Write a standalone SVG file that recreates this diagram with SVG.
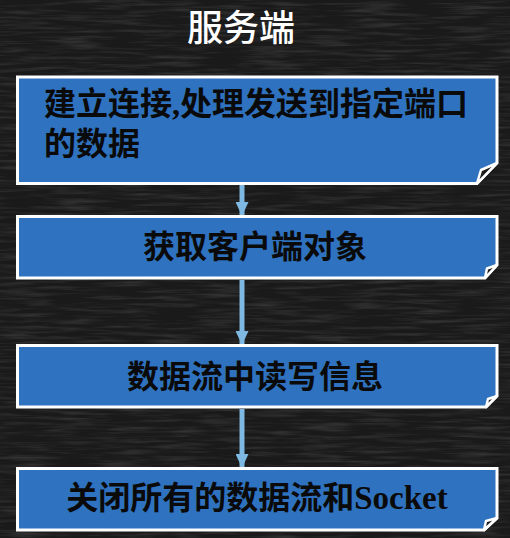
<svg xmlns="http://www.w3.org/2000/svg" width="510" height="538" viewBox="0 0 510 538">
<defs>
<filter id="grain" x="0" y="0" width="100%" height="100%">
<feTurbulence type="fractalNoise" baseFrequency="0.02 0.3" numOctaves="3" seed="4" result="n"/>
<feColorMatrix in="n" type="matrix" values="0 0 0 0 0.5  0 0 0 0 0.5  0 0 0 0 0.5  0 0 0 0.9 -0.38"/>
</filter>
<marker id="ah" viewBox="0 0 14 13" refX="13" refY="6.5" markerWidth="14" markerHeight="13" markerUnits="userSpaceOnUse" orient="auto">
<path d="M0,0 L14,6.5 L0,13 Z" fill="#7db9e2"/>
</marker>
</defs>
<style>
.box{fill:#2f72bf;stroke:#ffffff;stroke-width:3;stroke-linejoin:miter}
.flap{fill:#1c1c1c;stroke:#ffffff;stroke-width:2.5;stroke-linejoin:round}
.t{font-family:"Noto Sans CJK SC","Liberation Sans",sans-serif;font-weight:bold;font-size:32px;fill:#0a0a0a}
.c{text-anchor:middle}
.title{font-family:"Noto Sans CJK SC","Liberation Sans",sans-serif;font-size:36px;fill:#ffffff;text-anchor:middle;font-weight:500}
.conn{stroke:#7db9e2;stroke-width:5;fill:none}
</style>
<rect width="510" height="538" fill="#1a1a1a"/>
<rect width="510" height="538" filter="url(#grain)" opacity="0.4"/>
<text class="title" x="241" y="41">服务端</text>
<g id="connectors">
<line class="conn" x1="242" y1="185" x2="242" y2="215" marker-end="url(#ah)"/>
<line class="conn" x1="242" y1="280" x2="242" y2="344" marker-end="url(#ah)"/>
<line class="conn" x1="242" y1="409" x2="242" y2="467" marker-end="url(#ah)"/>
</g>
<g id="node1">
<path class="box" d="M17.5,77 H497 V163 L477,183.5 H17.5 Z"/>
<path class="flap" d="M497,163 L481,170 L477,183.5 Z"/>
<text class="t"><tspan x="44" y="115">建立连接<tspan font-family="Liberation Serif">,</tspan>处理发送到指定端口</tspan><tspan x="44" y="155">的数据</tspan></text>
</g>
<g id="node2">
<path class="box" d="M17.5,216.5 H497 V265 L485,278 H17.5 Z"/>
<path class="flap" d="M497,265 L487,268.5 L485,278 Z"/>
<text class="t c" x="255" y="258">获取客户端对象</text>
</g>
<g id="node3">
<path class="box" d="M17.5,345.5 H497 V396 L486,407 H17.5 Z"/>
<path class="flap" d="M497,396 L488,399 L486,407 Z"/>
<text class="t c" x="255" y="388">数据流中读写信息</text>
</g>
<g id="node4">
<path class="box" d="M17.5,468.5 H497 V518 L484,530 H17.5 Z"/>
<path class="flap" d="M497,518 L486,521 L484,530 Z"/>
<text class="t c" x="257" y="509">关闭所有的数据流和<tspan font-family="Liberation Serif" font-size="33">Socket</tspan></text>
</g>
</svg>
